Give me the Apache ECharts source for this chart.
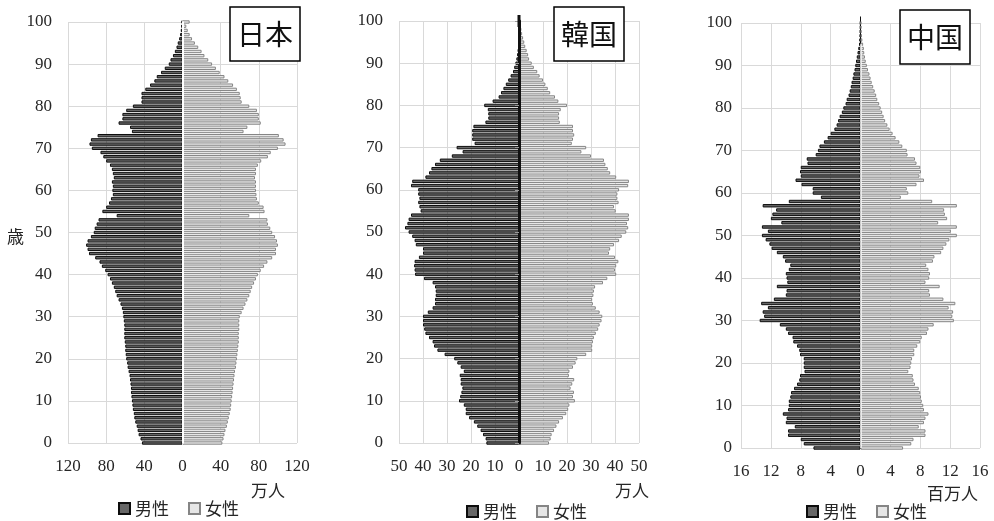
<!DOCTYPE html>
<html>
<head>
<meta charset="utf-8">
<script src="https://cdn.jsdelivr.net/npm/echarts@6/dist/echarts.min.js"></script>
<style>
html,body{margin:0;padding:0;background:#fff;}
#chart{width:994px;height:521px;}
</style>
</head>
<body>
<div id="chart"></div>
<script>
// Age categories 0..100 (single years)
const ages = [];
for (let a = 0; a <= 100; a++) ages.push(String(a));

// Japan, population by single year of age (万人), ages 0..100
const japanMale = [
  42.5,44,46,47,48,49.5,50.5,51,52,52.5,
  53,53.5,54,54,54.5,55,55.5,56.5,57.5,58,
  59,59.5,60,60,60.5,61,61,61,61,61.5,
  62,62.5,63.5,65,67,69,70.5,72,74,76,
  78.5,81,84.5,87,91.5,98,99.5,101,99.5,96,
  93,92,90,88,69,84,80,77,75,73,
  73.5,73,74,72,73,74,76,80,83,86,
  95,97.5,96,89,53,55,67,63,63,59,
  52,43,43,43,39,34,29.5,27,22.5,18.6,
  14.4,12.6,10,8,6.3,5,3.5,2.5,1.8,1.3,
  1
];
const japanFemale = [
  41.8,43,44,45,46.5,47.5,48.5,49.5,50.5,51,
  51.5,52,52.5,53,53.5,54,54.5,55,56,56.5,
  57,57.5,58,58.5,59,59,59,59.5,59.5,59.5,
  60,62,64,66,68,70,71.5,73,75,77,
  79,82,85.5,89,94,98,98,100,99,97,
  94,92,89.5,89,70,86,85,80,78,77.5,
  77,77,77,76,77,77,79,82.5,89.5,92.5,
  100,108,106,101,64,68,82,80,80,78,
  70,62,61,60,57,53,48,44,39,35,
  31,27,23,20,16.5,13,10,7.5,5.5,4,
  7.5
];

// Korea (万人), ages 0..100
const koreaMale = [
  13.6,13.9,15,16,17.4,18.8,20.8,22.2,22.2,23,
  25,24.5,24,23.6,24.3,24.3,24.7,23,24.3,25.7,
  27,31,34,35.4,36,37.5,39,39.5,40,40,
  40,38,36,35,35,34.7,34.7,35,36,39.6,
  43.3,43.5,43.7,43.5,41.7,40,40,43,43.5,44.5,
  46,47.5,46.5,46,45,41,41.5,42,41.5,42,
  42,45,44.5,39,37.5,36.5,35,33,28,23.5,
  26,18.5,19.5,19.5,19.5,19,14,12.8,12.8,13,
  14.5,11,8.5,7.5,6.5,5.5,4.5,3.5,2.5,2,
  1.5,1.1,0.8,0.6,0.4,0.3,0.2,0.15,0.1,0.08,
  0.1
];
const koreaFemale = [
  12.5,13.2,13.6,14.6,15.6,16.7,18.3,19.7,20.5,21,
  23.3,22.5,22.9,21.5,22.2,23,20.8,21,22.5,23.6,
  24.3,28,30.5,30.5,30.8,31.2,32,33,33.6,34.4,
  34.7,33.6,32,30.8,30.5,31,31.2,31.7,35,36.8,
  40.5,40,40.5,41.4,40,37.5,38,39.6,41.7,42.8,
  44.7,45.5,45,45.8,45.8,40.3,39.6,41.5,41,41,
  41.7,45.5,45.8,40.5,38,37,36,35.4,30,26,
  28,22,22.5,23,22.5,22.5,17,16.7,16.7,17.4,
  20,16.4,15,13,12,11,10,8.6,7.6,6.2,
  5.3,4.2,3.8,3.2,2.6,2.2,1.7,1.3,1,0.8,
  0.6
];

// China (百万人), ages 0..100
const chinaMale = [
  6.3,7.6,8,9.7,9.7,8.8,10,9.9,10.4,9.7,
  9.6,9.6,9.4,9.3,8.9,8.5,8.2,8.1,7.5,7.6,
  7.6,7.6,8.1,8.2,8.5,9,9.1,9.7,10,10.8,
  13.5,12.9,13.1,12.4,13.3,11.6,10,9.9,11.2,9.8,
  9.9,10,9.6,9.4,10.1,10.4,11.2,11.9,12.2,12.7,
  13.2,12.4,13.2,10.6,12,11.8,11.3,13.1,9.6,5.3,
  6.4,6.4,7.9,8.7,8,8.1,8,7.1,7.2,6,
  5.7,5.5,4.9,4.4,4,3.5,3.2,3,2.8,2.5,
  2.3,2,1.85,1.6,1.45,1.3,1.2,1.05,0.95,0.8,
  0.7,0.6,0.5,0.4,0.3,0.2,0.15,0.1,0.07,0.05,
  0.05
];
const chinaFemale = [
  5.7,6.8,7.1,8.7,8.7,7.8,8.5,8.7,9.1,8.5,
  8.4,8.2,8.1,8,7.8,7.3,7.1,7,6.4,6.7,
  6.8,6.9,7.2,7.2,7.6,8,8.2,8.9,9.1,9.8,
  12.5,12.3,12.4,11.8,12.7,11.1,9.3,9.2,10.6,8.7,
  9.2,9.3,9.1,8.8,9.7,9.9,10.8,11.1,11.5,11.9,
  12.9,12.1,12.9,10.4,11.6,11.3,11.2,12.9,9.6,5.4,
  6.4,6.2,7.5,8.5,7.9,8.1,8,7.5,7.3,6.3,
  6.2,5.6,5.2,4.7,4.3,3.9,3.6,3.3,3.1,2.9,
  2.7,2.5,2.25,2.1,1.9,1.7,1.5,1.35,1.2,1,
  0.85,0.7,0.6,0.5,0.45,0.35,0.25,0.2,0.15,0.12,
  0.1
];

const panelTitles = ['日本', '韓国', '中国'];
const unitLabels = ['万人', '万人', '百万人'];
const seriesNames = ['男性', '女性'];
const ageLabel = '歳';

const SERIF = '"Liberation Serif", "DejaVu Serif", serif';
const CJK = '"Noto Sans CJK JP", "Noto Sans", sans-serif';
const TXT = '#262626';
const GRID = '#d9d9d9';
const maleStyle = { color: '#666666', borderColor: '#0d0d0d', borderWidth: 1 };
const femaleStyle = { color: '#e6e6e6', borderColor: '#858585', borderWidth: 1 };

// Layout of the three pyramids
const panels = [
  { male: japanMale, female: japanFemale, max: 120, step: 40,
    grid: { left: 68, top: 22, width: 229, height: 421 }, labelMargin: 16,
    box: { left: 230, top: 7 }, unit: { x: 251, y: 482 }, legend: { left: 113, top: 495 },
    zero: { color: '#ffffff', width: 2, z: 10, ext: null, ticks: false, mark: false } },
  { male: koreaMale, female: koreaFemale, max: 50, step: 10,
    grid: { left: 399, top: 21, width: 240, height: 422 }, labelMargin: 16,
    box: { left: 554, top: 7 }, unit: { x: 615, y: 482 }, legend: { left: 461, top: 498 },
    zero: { color: '#111111', width: 3, z: 10, ext: [3, 12], ticks: true, mark: false } },
  { male: chinaMale, female: chinaFemale, max: 16, step: 4,
    grid: { left: 741, top: 23, width: 239, height: 425 }, labelMargin: 9,
    box: { left: 900, top: 10 }, unit: { x: 927, y: 485 }, legend: { left: 801, top: 498 },
    zero: { color: '#111111', width: 1, z: 0, ext: [1, 13], ticks: false, mark: true } }
];

const option = {
  animation: false,
  backgroundColor: '#ffffff',
  title: panels.map((p, i) => ({
    text: panelTitles[i],
    left: p.box.left, top: p.box.top,
    padding: [13, 7],
    borderColor: '#000', borderWidth: 1.5,
    backgroundColor: '#fff',
    z: 20,
    textStyle: { fontFamily: CJK, fontSize: 28, lineHeight: 28, fontWeight: 'normal', color: '#111' }
  })),
  grid: panels.map(p => Object.assign({}, p.grid)),
  xAxis: panels.map((p, i) => ({
    type: 'value', gridIndex: i,
    min: -p.max, max: p.max, interval: p.step,
    axisLine: { show: false }, axisTick: { show: false },
    splitLine: { show: true, lineStyle: { color: GRID, width: 1 } },
    axisLabel: { formatter: v => String(Math.abs(v)), fontFamily: SERIF, fontSize: 17, color: TXT, margin: 15 }
  })),
  yAxis: [],
  series: [],
  legend: panels.map((p, i) => ({
    data: seriesNames,
    left: p.legend.left, top: p.legend.top,
    icon: 'rect', itemWidth: 11, itemHeight: 11, itemGap: 19,
    selectedMode: false,
    textStyle: { fontFamily: CJK, fontSize: 17, color: TXT }
  })),
  graphic: []
};

panels.forEach((p, i) => {
  // Age axis with labels and horizontal grid lines
  option.yAxis.push({
    type: 'category', gridIndex: i, data: ages, boundaryGap: false,
    axisLine: { show: false, onZero: false },
    axisTick: { show: false },
    axisLabel: { interval: 9, fontFamily: SERIF, fontSize: 17, color: TXT, margin: p.labelMargin },
    splitLine: { show: true, interval: 9, lineStyle: { color: GRID, width: 1 } }
  });
  // Central axis line at zero
  const zeroLine = { show: true, onZero: true, lineStyle: { color: p.zero.color, width: p.zero.width } };
  if (p.zero.ext) {
    zeroLine.symbol = ['none', 'rect'];
    zeroLine.symbolSize = p.zero.ext;
  }
  option.yAxis.push({
    type: 'category', gridIndex: i, data: ages, boundaryGap: false,
    z: p.zero.z,
    axisLine: zeroLine,
    axisTick: p.zero.ticks
      ? { show: true, inside: true, length: 4, interval: 9, lineStyle: { color: '#9a9a9a', width: 1 } }
      : { show: false },
    axisLabel: { show: false },
    splitLine: { show: false }
  });

  const common = {
    type: 'bar', xAxisIndex: i, yAxisIndex: 2 * i, stack: 'pop' + i,
    barCategoryGap: '20%', clip: false, silent: true
  };
  option.series.push(Object.assign({}, common, {
    name: seriesNames[0],
    data: p.male.map(v => -v),
    itemStyle: maleStyle
  }));
  const fem = Object.assign({}, common, {
    name: seriesNames[1],
    data: p.female.slice(),
    itemStyle: femaleStyle
  });
  if (p.zero.mark) {
    fem.markLine = {
      silent: true, symbol: 'none', label: { show: false },
      lineStyle: { color: '#ffffff', width: 1.5, type: 'solid' },
      data: [[{ coord: [0, 0] }, { coord: [0, 95] }]]
    };
  }
  option.series.push(fem);

  option.graphic.push({
    type: 'text', left: p.unit.x, top: p.unit.y,
    style: { text: unitLabels[i], font: '17px ' + CJK, fill: TXT }
  });
});

option.graphic.push({
  type: 'text', left: 7, top: 228,
  style: { text: ageLabel, font: '17px ' + CJK, fill: TXT }
});

const chart = echarts.init(document.getElementById('chart'), null, { renderer: 'canvas' });
chart.setOption(option);
</script>
</body>
</html>
